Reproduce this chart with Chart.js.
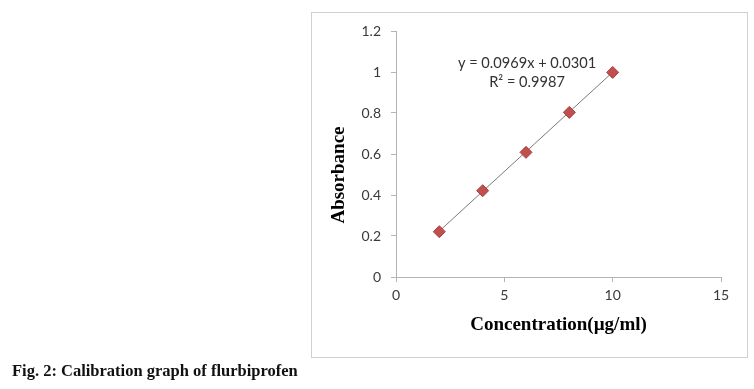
<!DOCTYPE html>
<html><head><meta charset="utf-8">
<script src="https://cdn.jsdelivr.net/npm/chart.js@4/dist/chart.umd.min.js"></script>
<style>
html,body{margin:0;padding:0;background:#fff;width:754px;height:389px;overflow:hidden;}
#box{position:absolute;left:311px;top:12px;width:435px;height:344px;border:1.5px solid #d0d0d0;}
#cap{position:absolute;left:12px;top:361px;font-family:"Liberation Serif",serif;font-weight:bold;font-size:16.5px;color:#111;white-space:nowrap;}
canvas{position:absolute;left:0;top:0;}
</style></head>
<body>
<div id="box"></div>
<canvas id="c" width="754" height="389"></canvas>
<div id="cap">Fig. 2: Calibration graph of flurbiprofen</div>
<script>
const concentration = [2, 4, 6, 8, 10];
const absorbance = [0.221, 0.421, 0.608, 0.803, 0.998];
const trendX = [2, 10];
const trendY = [0.224, 0.999];
const xTicks = [0, 5, 10, 15];
const yTicks = [0, 0.2, 0.4, 0.6, 0.8, 1, 1.2];
const equationLines = ["y = 0.0969x + 0.0301", "R\u00B2 = 0.9987"];
const xTitle = "Concentration(\u00B5g/ml)";
const yTitle = "Absorbance";

const axisColor = '#b4b4b4';
const tickFont = {family: 'Lato', size: 14};
const labelColor = '#3a3a3a';

const annot = {
  id: 'annot',
  afterDraw(chart) {
    const ctx = chart.ctx, a = chart.chartArea;
    ctx.save();
    ctx.fillStyle = '#333';
    ctx.font = '14.6px Lato';
    ctx.textAlign = 'center';
    ctx.textBaseline = 'middle';
    ctx.fillText(equationLines[0], a.left + 131, a.top + 32);
    ctx.fillText(equationLines[1], a.left + 131, a.top + 51);
    ctx.translate(339, a.top + 144);
    ctx.rotate(-Math.PI / 2);
    ctx.fillStyle = '#000';
    ctx.font = 'bold 19px "Liberation Serif"';
    ctx.fillText(yTitle, 0, 0);
    ctx.restore();
  }
};

new Chart(document.getElementById('c'), {
  type: 'scatter',
  data: {
    datasets: [
      {
        label: 'trend',
        type: 'line',
        data: trendX.map((x, i) => ({x, y: trendY[i]})),
        borderColor: '#7a7a7a',
        borderWidth: 1,
        pointRadius: 0,
        fill: false,
        order: 2
      },
      {
        label: 'Absorbance',
        data: concentration.map((x, i) => ({x, y: absorbance[i]})),
        pointStyle: 'rectRot',
        pointRadius: 6,
        backgroundColor: '#c0504d',
        borderColor: '#a8403d',
        borderWidth: 1,
        order: 1
      }
    ]
  },
  options: {
    responsive: false,
    animation: false,
    events: [],
    layout: {padding: {left: 330, right: 33, top: 31, bottom: 52}},
    plugins: {legend: {display: false}, tooltip: {enabled: false}},
    scales: {
      x: {
        type: 'linear', min: 0, max: 15,
        afterBuildTicks: s => { s.ticks = xTicks.map(v => ({value: v})); },
        afterFit: s => { s.height = 60; },
        grid: {display: true, drawOnChartArea: false, drawTicks: true, tickLength: 5, color: axisColor},
        border: {color: axisColor, width: 1},
        ticks: {font: tickFont, color: labelColor, padding: 5, maxRotation: 0},
        title: {display: true, text: xTitle, color: '#000', font: {family: 'Liberation Serif', weight: 'bold', size: 19}, padding: {top: 0, bottom: 1}}
      },
      y: {
        type: 'linear', min: 0, max: 1.2,
        afterBuildTicks: s => { s.ticks = yTicks.map(v => ({value: v})); },
        afterFit: s => { s.width = 66; },
        grid: {display: true, drawOnChartArea: false, drawTicks: true, tickLength: 5, color: axisColor},
        border: {color: axisColor, width: 1},
        ticks: {font: tickFont, color: labelColor, padding: 10, callback: v => String(+v.toFixed(1))}
      }
    }
  },
  plugins: [annot]
});
</script>
</body></html>
